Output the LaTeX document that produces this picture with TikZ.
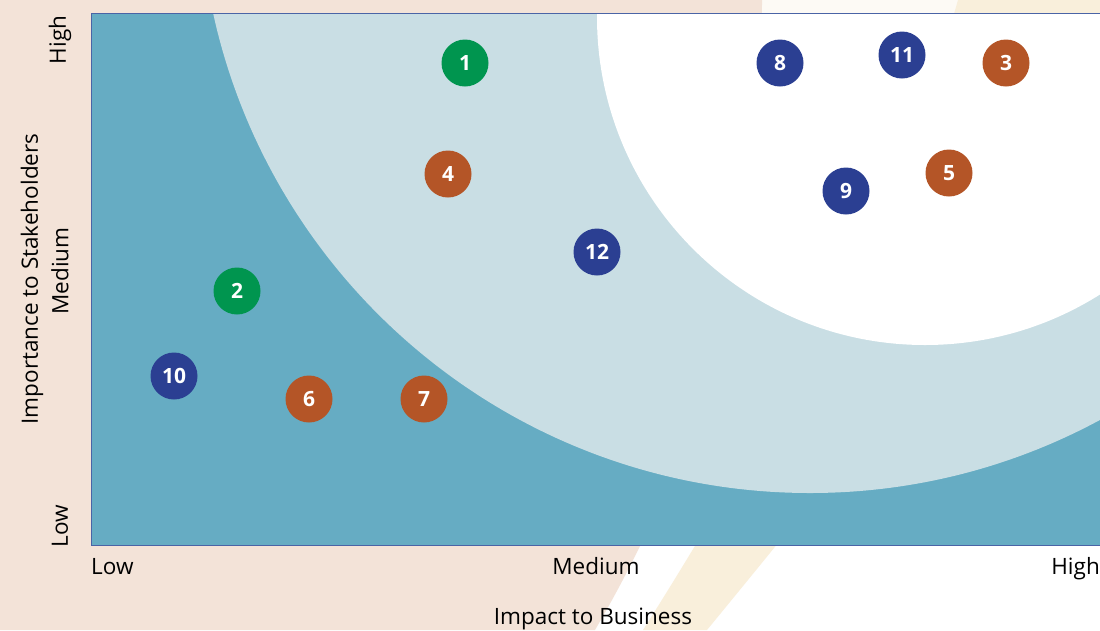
\documentclass[tikz,border=0pt]{standalone}
\usepackage{fontspec}
\setmainfont{Open Sans}
\definecolor{peach}{HTML}{F3E3D8}
\definecolor{paleyel}{HTML}{F9EFDB}
\definecolor{cream}{HTML}{FDFAF5}
\definecolor{darkteal}{HTML}{66ACC3}
\definecolor{lightteal}{HTML}{C9DEE4}
\definecolor{frameblue}{HTML}{4A64A6}
\definecolor{bgreen}{HTML}{00954F}
\definecolor{borange}{HTML}{B45527}
\definecolor{bblue}{HTML}{2B3F92}
\tikzset{
  bubble/.style={circle, minimum size=47pt, inner sep=0pt, text=white,
    font=\fontsize{21}{21}\selectfont\bfseries},
  axislab/.style={font=\fontsize{22.5}{22.5}\selectfont, text=black, inner sep=0pt},
}
\begin{document}
\begin{tikzpicture}[x=1pt,y=-1pt]
\useasboundingbox (0,0) rectangle (1100,630);
% background
\fill[white] (0,0) rectangle (1100,630);
\fill[cream] (600,0) rectangle (1100,14);
\fill[paleyel] (958,0) .. controls (902,200) and (738,480) .. (643,630)
  -- (707,630) .. controls (830,480) and (1060,200) .. (1160,0) -- cycle;
\fill[peach] (0,0) -- (762,0) .. controls (762,250) and (700,450) .. (595,630) -- (0,630) -- cycle;
% plot area
\begin{scope}
  \clip (91,13) rectangle (1100,545);
  \fill[darkteal] (91,13) rectangle (1100,545);
  \fill[lightteal] (810,-118) circle[radius=611];
  \fill[white] (925,17) circle[radius=328];
\end{scope}
\draw[frameblue, line width=1pt] (1100,13) -- (91,13) -- (91,545) -- (1100,545);
% bubbles
\node[bubble, fill=bgreen] (b1) at (465,63) {1};
\node[bubble, fill=bgreen] (b2) at (237,291) {2};
\node[bubble, fill=borange] (b3) at (1006,63) {3};
\node[bubble, fill=borange] (b4) at (448,174) {4};
\node[bubble, fill=borange] (b5) at (949,173) {5};
\node[bubble, fill=borange] (b6) at (309,399) {6};
\node[bubble, fill=borange] (b7) at (424,399) {7};
\node[bubble, fill=bblue] (b8) at (780,63) {8};
\node[bubble, fill=bblue] (b9) at (846,191) {9};
\node[bubble, fill=bblue] (b10) at (174,376) {10};
\node[bubble, fill=bblue] (b11) at (902,55) {11};
\node[bubble, fill=bblue] (b12) at (597,252) {12};
% x axis labels
\node[axislab, anchor=base west] (xlow) at (91,574) {Low};
\node[axislab, anchor=base] (xmed) at (596,574) {Medium};
\node[axislab, anchor=base east] (xhigh) at (1100,574) {High};
\node[axislab, anchor=base] (xtitle) at (593,624) {Impact to Business};
% y axis labels
\node[axislab, rotate=90] (yhigh) at (60,40) {High};
\node[axislab, rotate=90] (ymed) at (60,271) {Medium};
\node[axislab, rotate=90] (ylow) at (60,526) {Low};
\node[axislab, rotate=90] (ytitle) at (32,279) {Importance to Stakeholders};
\end{tikzpicture}
\end{document}
